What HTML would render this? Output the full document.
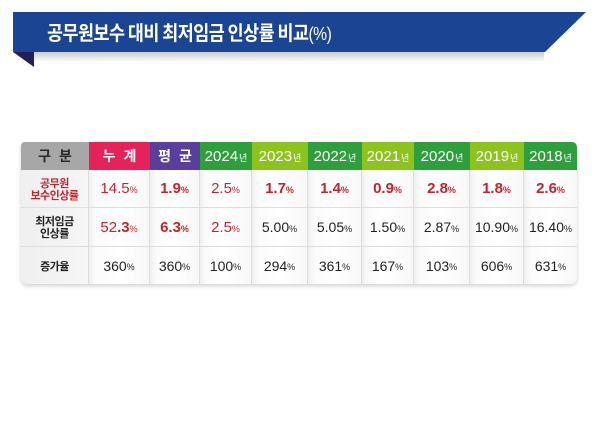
<!DOCTYPE html>
<html><head><meta charset="utf-8">
<style>
*{margin:0;padding:0;box-sizing:border-box}
body{width:600px;height:423px;background:#fff;position:relative;overflow:hidden;font-family:"Liberation Sans","Noto Sans CJK KR",sans-serif}
.abs{position:absolute}
.title{position:absolute;left:47px;top:18px;color:#fff;font-family:"Noto Sans CJK KR","NanumGothic",sans-serif;font-weight:700;font-size:20px;letter-spacing:-0.6px;line-height:28px;white-space:nowrap;transform:scaleX(0.87);transform-origin:0 50%}
.title span{font-weight:400;font-family:"Liberation Sans",sans-serif;font-size:18px}
.c{position:absolute;display:flex;align-items:center;justify-content:center;text-align:center;white-space:nowrap}
.h{top:142px;height:28px;color:#fff;font-size:15px}
.h small{font-size:9px;font-family:"Noto Sans CJK KR",sans-serif;margin-left:1px;margin-top:3px}
.hk{font-family:"Noto Sans CJK KR",sans-serif;font-weight:700;font-size:14px;letter-spacing:0}
.hk i{display:inline-block;width:8px}
.body{background:linear-gradient(to right,#efefef 0,#fbfbfb 6px,#fff 50%,#f7f7f7 100%);border-right:1px solid #dcdcdc;border-bottom:1px solid #dedede}
.r1{top:170px;height:38px}
.r2{top:208px;height:39px}
.r3{top:247px;height:37px;border-bottom:none}
.v{font-size:14px;color:#222}
.v small{font-size:9px;margin-top:3px}
.red{color:#c1242c}
.b{font-weight:700;font-size:15px}
.lbl{font-family:"Noto Sans CJK KR",sans-serif;font-weight:700;font-size:11px;line-height:12px;letter-spacing:-0.5px;color:#222}
</style></head><body>
<!-- banner -->
<div class="abs" style="left:34px;top:52px;width:510px;height:10px;background:linear-gradient(to bottom,rgba(160,160,160,0.55),rgba(255,255,255,0));"></div>
<svg class="abs" style="left:0;top:0" width="600" height="80">
<polygon points="13,12 586,12 545,52 13,52" fill="#1b4593"/>
<polygon points="13,52 34,52 34,67" fill="#221f5a"/>
</svg>
<div class="title">공무원보수 대비 최저임금 인상률 비교<span>(%)</span></div>

<!-- table shadow -->
<div class="abs" style="left:21px;top:142px;width:556px;height:142px;border-radius:5px 6px 7px 7px;box-shadow:0 2px 4px rgba(0,0,0,0.18);background:#fff"></div>

<!-- header -->
<div class="c h hk" style="left:21px;width:68px;background:#a7a7a7;color:#2a2a2a;border-radius:4px 0 0 0">구<i></i>분</div>
<div class="c h hk" style="left:89px;width:61px;background:#e5235b">누<i></i>계</div>
<div class="c h hk" style="left:150px;width:50px;background:#5a3e9b">평<i></i>균</div>
<div class="c h" style="left:200px;width:52px;background:#2e9f3c">2024<small>년</small></div>
<div class="c h" style="left:252px;width:56px;background:#8cc31e">2023<small>년</small></div>
<div class="c h" style="left:308px;width:54px;background:#2e9f3c">2022<small>년</small></div>
<div class="c h" style="left:362px;width:52px;background:#8cc31e">2021<small>년</small></div>
<div class="c h" style="left:414px;width:56px;background:#2e9f3c">2020<small>년</small></div>
<div class="c h" style="left:470px;width:54px;background:#8cc31e">2019<small>년</small></div>
<div class="c h" style="left:524px;width:53px;background:#2e9f3c;border-radius:0 5px 0 0">2018<small>년</small></div>

<!-- row 1 -->
<div class="c body r1 lbl red" style="left:21px;width:68px;background:linear-gradient(to right,#efefef,#f6f6f6);color:#c1242c">공무원<br>보수인상률</div>
<div class="c body r1 v red" style="left:89px;width:61px;font-size:15px">14.5<small>%</small></div>
<div class="c body r1 v red b" style="left:150px;width:50px">1.9<small>%</small></div>
<div class="c body r1 v red" style="left:200px;width:52px;font-size:15px">2.5<small>%</small></div>
<div class="c body r1 v red b" style="left:252px;width:56px">1.7<small>%</small></div>
<div class="c body r1 v red b" style="left:308px;width:54px">1.4<small>%</small></div>
<div class="c body r1 v red b" style="left:362px;width:52px">0.9<small>%</small></div>
<div class="c body r1 v red b" style="left:414px;width:56px">2.8<small>%</small></div>
<div class="c body r1 v red b" style="left:470px;width:54px">1.8<small>%</small></div>
<div class="c body r1 v red b" style="left:524px;width:53px;border-right:none">2.6<small>%</small></div>

<!-- row 2 -->
<div class="c body r2 lbl" style="left:21px;width:68px;background:linear-gradient(to right,#efefef,#f6f6f6)">최저임금<br>인상률</div>
<div class="c body r2 v red" style="left:89px;width:61px;font-size:15px">52<b>.3</b><small>%</small></div>
<div class="c body r2 v red b" style="left:150px;width:50px">6.3<small>%</small></div>
<div class="c body r2 v red" style="left:200px;width:52px;font-size:15px">2.5<small>%</small></div>
<div class="c body r2 v" style="left:252px;width:56px">5.00<small>%</small></div>
<div class="c body r2 v" style="left:308px;width:54px">5.05<small>%</small></div>
<div class="c body r2 v" style="left:362px;width:52px">1.50<small>%</small></div>
<div class="c body r2 v" style="left:414px;width:56px">2.87<small>%</small></div>
<div class="c body r2 v" style="left:470px;width:54px">10.90<small>%</small></div>
<div class="c body r2 v" style="left:524px;width:53px;border-right:none">16.40<small>%</small></div>

<!-- row 3 -->
<div class="c body r3 lbl" style="left:21px;width:68px;background:linear-gradient(to right,#efefef,#f6f6f6);border-radius:0 0 0 7px">증가율</div>
<div class="c body r3 v" style="left:89px;width:61px">360<small>%</small></div>
<div class="c body r3 v" style="left:150px;width:50px">360<small>%</small></div>
<div class="c body r3 v" style="left:200px;width:52px">100<small>%</small></div>
<div class="c body r3 v" style="left:252px;width:56px">294<small>%</small></div>
<div class="c body r3 v" style="left:308px;width:54px">361<small>%</small></div>
<div class="c body r3 v" style="left:362px;width:52px">167<small>%</small></div>
<div class="c body r3 v" style="left:414px;width:56px">103<small>%</small></div>
<div class="c body r3 v" style="left:470px;width:54px">606<small>%</small></div>
<div class="c body r3 v" style="left:524px;width:53px;border-right:none;border-radius:0 0 7px 0">631<small>%</small></div>
</body></html>
